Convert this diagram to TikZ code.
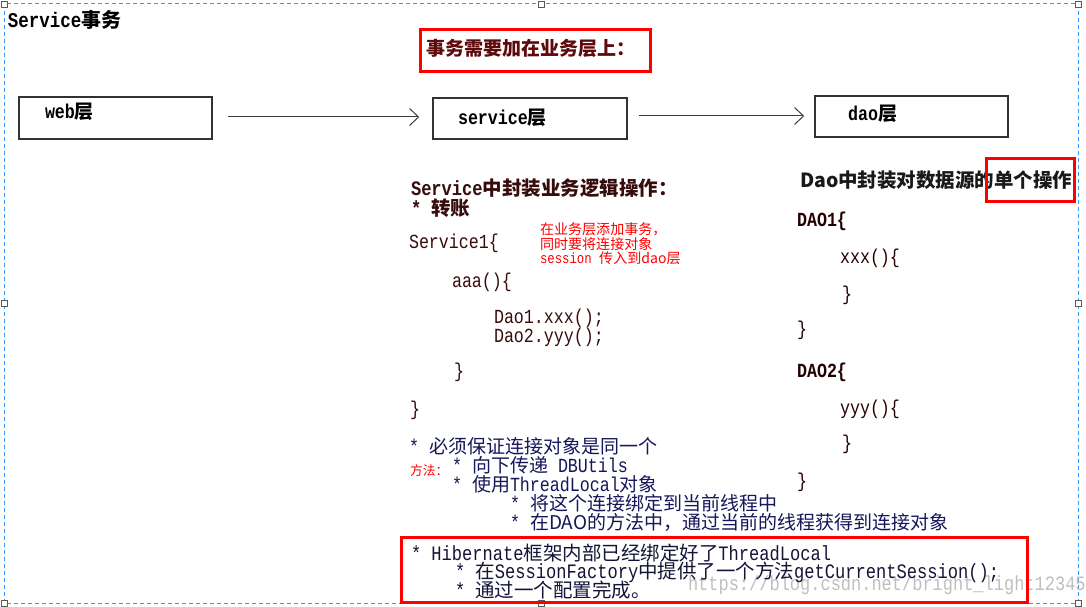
\documentclass[tikz,border=0pt]{standalone}
\usepackage{fontspec}
\setmainfont[Scale=1.0,FakeStretch=0.833]{Liberation Mono}
\newfontfamily\cjk[Scale=0.95]{Noto Sans CJK SC}
\usetikzlibrary{arrows.meta,fit}
\newcommand\hz[1]{{\cjk #1}}
\newcommand\fs[1]{\fontsize{#1}{#1}\selectfont}
\definecolor{selblue}{RGB}{51,153,255}
\definecolor{dred}{RGB}{95,10,10}
\definecolor{maroon}{RGB}{55,12,12}
\definecolor{navy}{RGB}{22,22,90}
\definecolor{hib}{RGB}{20,20,55}
\definecolor{boxgray}{RGB}{50,50,50}
\tikzset{
  txt/.style={anchor=west, inner sep=0pt, outer sep=0pt},
  layer/.style={draw=boxgray, line width=1.5pt, inner sep=0pt},
  redbox/.style={draw=red, line width=3pt, inner sep=0pt},
  arr/.style={draw=black!75, line width=1pt, -{Straight Barb[length=9pt,width=17pt,line width=1pt]}},
  handle/.style={draw=black!65, fill=white, line width=0.8pt, minimum size=6pt, inner sep=0pt},
  code/.style={txt, font=\fs{20}},
}
\begin{document}
\begin{tikzpicture}[x=1pt,y=-1pt]
\useasboundingbox (0,0) rectangle (1086,607);
\fill[white] (0,0) rectangle (1086,607);
% selection frame
\draw[selblue, line width=1pt, dash pattern=on 4pt off 3pt] (4,4) rectangle (1078,603);
\foreach \hx/\hy [count=\i] in {4/4,541/4,1078/4,4/303,1078/303,4/603,541/603,1078/603}
  \node[handle] (h\i) at (\hx,\hy) {};

% title
\node[txt, font=\fs{21}\bfseries] (title) at (8,20) {Service\hz{事务}};

% red heading
\node[redbox, fit={(420,30) (650,72)}] (needbox) {};
\node[txt, font=\fs{20}\bfseries, text=dred] (need) at (426,48) {\hz{事务需要加在业务层上：}};

% layers
\node[layer, fit={(19,97) (212,139)}] (web) {};
\node[layer, fit={(433,98) (627,139)}] (service) {};
\node[layer, fit={(815,96) (1008,137)}] (dao) {};
\node[txt, font=\fs{20}\bfseries] (webl) at (45,112) {web\hz{层}};
\node[txt, font=\fs{20}\bfseries] (servicel) at (458,118) {service\hz{层}};
\node[txt, font=\fs{20}\bfseries] (daol) at (848,114) {dao\hz{层}};
\draw[arr] ([xshift=15pt,yshift=1pt]web.east) -- ([xshift=-13pt,yshift=1pt]web.east -| service.west);
\draw[arr] ([xshift=11pt,yshift=2.5pt]service.east) -- ([xshift=-10pt,yshift=2.5pt]service.east -| dao.west);

% service section
\begin{scope}[every node/.append style={text=maroon}]
\node[code, font=\fs{20.5}\bfseries] (s1) at (411,188) {Service\hz{中封装业务逻辑操作：}};
\node[code, font=\fs{20.5}\bfseries] (s2) at (411,208) {* \hz{转账}};
\node[code] (s3) at (409,243) {Service1\{};
\node[code] (s4) at (452,282) {aaa()\{};
\node[code] (s5) at (494,318) {Dao1.xxx();};
\node[code] (s6) at (494,337) {Dao2.yyy();};
\node[code] (s7) at (454,372) {\}};
\node[code] (s8) at (410,410) {\}};
\end{scope}

% red annotation
\node[txt, font=\fs{14.8}, text=red] (a1) at (540,229) {\hz{在业务层添加事务，}};
\node[txt, font=\fs{14.8}, text=red] (a2) at (540,244) {\hz{同时要将连接对象}};
\node[txt, font=\fs{14.8}, text=red] (a3) at (540,258) {session \hz{传入到dao层}};

% dao section
\node[txt, font=\fs{20.5}\bfseries, text=black!90] (d0) at (800,180) {\hz{Dao中封装对数据源的单个操作}};
\node[redbox, fit={(986,158) (1074,201)}] (singlebox) {};
\begin{scope}[every node/.append style={text=black!85!red}]
\node[code, font=\fs{20}\bfseries] (d1) at (797,221) {DAO1\{};
\node[code] (d2) at (840,258) {xxx()\{};
\node[code] (d3) at (842,295) {\}};
\node[code] (d4) at (797,330) {\}};
\node[code, font=\fs{20}\bfseries] (d5) at (797,372) {DAO2\{};
\node[code] (d6) at (840,409) {yyy()\{};
\node[code] (d7) at (842,444) {\}};
\node[code] (d8) at (797,482) {\}};
\end{scope}

% blue section
\begin{scope}[every node/.append style={text=navy}]
\node[code] (b1) at (409,446) {* \hz{必须保证连接对象是同一个}};
\node[code] (b2) at (452,465) {* \hz{向下传递} DBUtils};
\node[code] (b3) at (452,484) {* \hz{使用}ThreadLocal\hz{对象}};
\node[code] (b4) at (510,503) {* \hz{将这个连接绑定到当前线程中}};
\node[code] (b5) at (510,522) {* \hz{在DAO的方法中，通过当前的线程获得到连接对象}};
\end{scope}
\node[txt, font=\fs{13.5}, text=red] (method) at (410,471) {\hz{方法：}};

% watermark
\node[txt, font=\fs{20.4}, text=black!25] (wm) at (688,585) {https://blog.csdn.net/bright\_light12345};

% hibernate box
\node[redbox, fit={(401,537) (1027,602)}] (hibbox) {};
\begin{scope}[every node/.append style={text=hib}]
\node[code, font=\fs{20.5}] (k1) at (411,553) {* Hibernate\hz{框架内部已经绑定好了}ThreadLocal};
\node[code, font=\fs{20.5}] (k2) at (455,572) {* \hz{在}SessionFactory\hz{中提供了一个方法}getCurrentSession();};
\node[code, font=\fs{20.5}] (k3) at (455,590) {* \hz{通过一个配置完成。}};
\end{scope}
\end{tikzpicture}
\end{document}
